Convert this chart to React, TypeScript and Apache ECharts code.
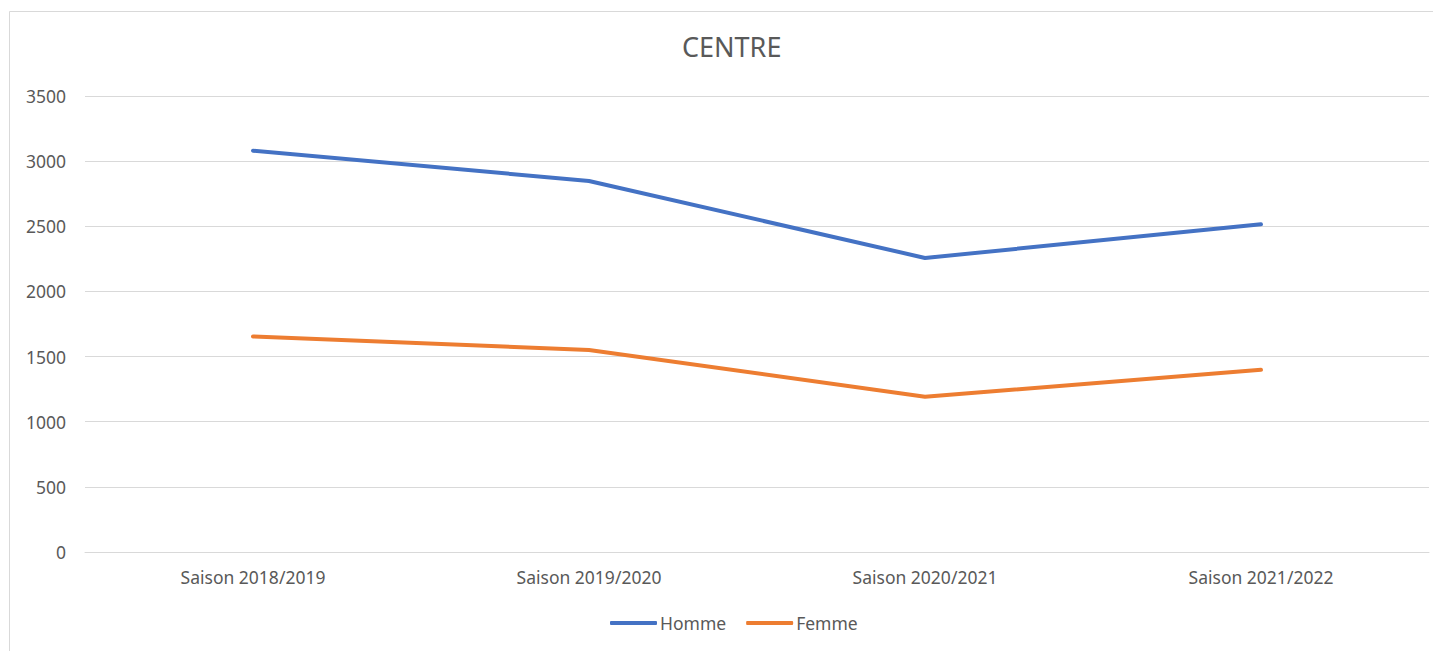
import React, { useEffect, useRef } from "react";
import * as echarts from "echarts";

const categories = ["Saison 2018/2019", "Saison 2019/2020", "Saison 2020/2021", "Saison 2021/2022"];
const homme = [3080, 2848, 2257, 2515];
const femme = [1655, 1550, 1192, 1398];

export default function App() {
  const ref = useRef<HTMLDivElement>(null);
  useEffect(() => {
    document.body.style.margin = "0";
    const chart = echarts.init(ref.current!, null, { renderer: "svg" });
    const font = "Noto Sans";
    chart.setOption({
      animation: false,
      backgroundColor: "#ffffff",
      title: {
        text: "CENTRE",
        left: 682,
        top: 33,
        padding: 0,
        textStyle: { fontFamily: font, fontSize: 27, fontWeight: "normal", color: "#595959" },
      },
      graphic: [
        {
          type: "rect",
          shape: { x: 9.5, y: 11.5, width: 1440, height: 660 },
          style: { fill: "none", stroke: "#d9d9d9", lineWidth: 1 },
          silent: true,
        },
      ],
      legend: {
        bottom: 19,
        left: 610,
        padding: 0,
        itemWidth: 47,
        itemHeight: 4,
        itemGap: 20,
        icon: "roundRect",
        textStyle: { fontFamily: font, fontSize: 17.5, color: "#595959", padding: [0, 0, 0, -2] },
        data: ["Homme", "Femme"],
      },
      grid: { left: 85, right: 4, top: 96, bottom: 99, containLabel: false },
      xAxis: {
        type: "category",
        data: categories,
        boundaryGap: true,
        axisLine: { lineStyle: { color: "#d9d9d9" } },
        axisTick: { show: false },
        axisLabel: { fontFamily: font, fontSize: 17.5, color: "#595959", margin: 16 },
      },
      yAxis: {
        type: "value",
        min: 0,
        max: 3500,
        interval: 500,
        axisLine: { show: false },
        axisTick: { show: false },
        splitLine: { lineStyle: { color: "#d9d9d9" } },
        axisLabel: { fontFamily: font, fontSize: 17.5, color: "#595959", margin: 19, formatter: (v: number) => String(v) },
      },
      series: [
        {
          name: "Homme",
          type: "line",
          data: homme,
          showSymbol: false,
          symbol: "none",
          lineStyle: { width: 4, color: "#4472C4", cap: "round" },
          itemStyle: { color: "#4472C4" },
        },
        {
          name: "Femme",
          type: "line",
          data: femme,
          showSymbol: false,
          symbol: "none",
          lineStyle: { width: 4, color: "#ED7D31", cap: "round" },
          itemStyle: { color: "#ED7D31" },
        },
      ],
    });
    return () => chart.dispose();
  }, []);
  return <div ref={ref} style={{ width: 1433, height: 651 }} />;
}
